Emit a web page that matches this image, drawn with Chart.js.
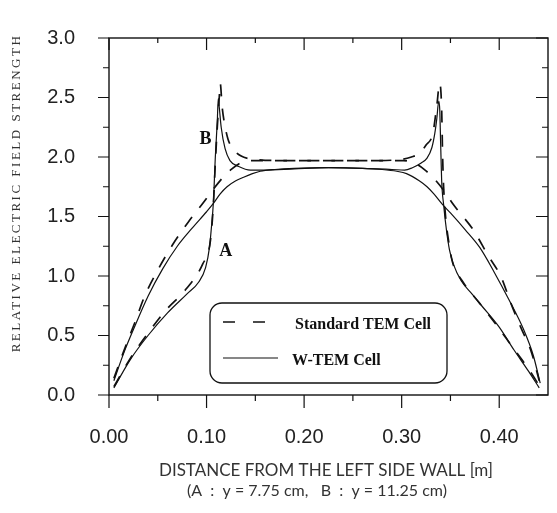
<!DOCTYPE html>
<html lang="en">
<head>
<meta charset="UTF-8">
<title>Relative electric field strength</title>
<script src="https://cdn.jsdelivr.net/npm/chart.js"></script>
<style>
  body { margin: 0; background: #fff; }
  #fieldChart { display: block; }
</style>
</head>
<body>
<canvas id="fieldChart" width="557" height="513"></canvas>
<script>
// distance from the left side wall [m] -> relative field strength
// A: y = 7.75 cm (smooth curve), B: y = 11.25 cm (peaks at the septum edges)
const stdA_x = [0.005,0.017,0.027,0.036,0.050,0.065,0.081,0.097,0.107,0.117,0.126,0.135,0.148,0.180,0.225,0.270,0.302,0.315,0.324,0.333,0.343,0.353,0.374,0.388,0.402,0.412,0.422,0.433,0.441];
const stdA_y = [0.14,0.41,0.62,0.82,1.05,1.26,1.45,1.62,1.73,1.83,1.90,1.95,1.97,1.97,1.97,1.97,1.97,1.94,1.89,1.82,1.72,1.60,1.38,1.18,0.99,0.77,0.57,0.36,0.12];

const wtemA_x = [0.005,0.015,0.025,0.040,0.055,0.070,0.085,0.100,0.107,0.114,0.121,0.130,0.138,0.147,0.155,0.170,0.190,0.225,0.260,0.280,0.295,0.305,0.318,0.326,0.333,0.342,0.350,0.365,0.380,0.395,0.410,0.425,0.435,0.442];
const wtemA_y = [0.12,0.35,0.55,0.83,1.06,1.25,1.40,1.54,1.61,1.69,1.75,1.80,1.83,1.86,1.88,1.895,1.905,1.91,1.905,1.895,1.88,1.86,1.80,1.75,1.69,1.60,1.53,1.39,1.24,1.03,0.80,0.55,0.33,0.10];

const stdB_x = [0.005,0.022,0.040,0.058,0.079,0.096,0.104,0.107,0.109,0.111,0.113,0.114,0.116,0.118,0.122,0.127,0.135,0.150,0.180,0.225,0.270,0.300,0.310,0.318,0.325,0.332,0.336,0.339,0.341,0.342,0.343,0.345,0.348,0.352,0.362,0.380,0.397,0.413,0.430,0.441];
const stdB_y = [0.07,0.31,0.52,0.71,0.89,1.10,1.30,1.60,1.95,2.25,2.50,2.62,2.42,2.30,2.15,2.07,2.01,1.98,1.97,1.97,1.97,1.98,2.00,2.03,2.10,2.20,2.43,2.62,2.40,2.00,1.75,1.50,1.30,1.12,0.96,0.77,0.59,0.41,0.22,0.08];

const wtemB_x = [0.005,0.022,0.040,0.060,0.080,0.092,0.099,0.103,0.105,0.107,0.109,0.111,0.112,0.113,0.115,0.119,0.124,0.133,0.145,0.160,0.190,0.225,0.260,0.290,0.303,0.311,0.320,0.326,0.331,0.334,0.336,0.338,0.339,0.340,0.341,0.343,0.346,0.349,0.353,0.361,0.372,0.382,0.400,0.415,0.430,0.441];
const wtemB_y = [0.06,0.30,0.50,0.69,0.85,0.95,1.07,1.24,1.41,1.62,2.00,2.30,2.49,2.42,2.25,2.07,1.97,1.92,1.89,1.89,1.90,1.91,1.905,1.895,1.89,1.91,1.95,1.99,2.08,2.20,2.32,2.47,2.40,2.10,1.80,1.60,1.38,1.22,1.10,0.96,0.85,0.75,0.57,0.38,0.20,0.06];

// axes
const xTickVals = [0, 0.05, 0.10, 0.15, 0.20, 0.25, 0.30, 0.35, 0.40];
const xTickLabels = ['0.00', '', '0.10', '', '0.20', '', '0.30', '', '0.40'];
const yTickVals = [0, 0.25, 0.5, 0.75, 1.0, 1.25, 1.5, 1.75, 2.0, 2.25, 2.5, 2.75, 3.0];
const yTickLabels = ['0.0', '', '0.5', '', '1.0', '', '1.5', '', '2.0', '', '2.5', '', '3.0'];

// curve labels, placed in data units
const curveNames = ['A', 'B'];
const curveNameX = [0.1196, 0.099];
const curveNameY = [1.21, 2.15];

const legendNames = ['Standard TEM Cell', 'W-TEM Cell'];

const pts = (xs, ys) => xs.map((v, i) => ({x: v, y: ys[i]}));

const INK = '#111';
const DASH = [12, 12];

const frameTicks = {
    id: 'frameTicks',
    afterDatasetsDraw(chart) {
        const {ctx, chartArea: a, scales: {x, y}} = chart;
        ctx.save();
        ctx.strokeStyle = INK;
        ctx.lineWidth = 1.4;
        ctx.strokeRect(a.left, a.top, a.right - a.left, a.bottom - a.top);

        ctx.lineWidth = 1.2;
        ctx.beginPath();
        xTickVals.forEach((v, i) => {
            const px = x.getPixelForValue(v);
            const major = i % 2 === 0;
            ctx.moveTo(px, a.bottom);
            ctx.lineTo(px, a.bottom + (major ? 13 : 6));
            ctx.moveTo(px, a.top);
            ctx.lineTo(px, a.top + (major ? 12 : 5));
        });
        yTickVals.forEach((v, i) => {
            const py = y.getPixelForValue(v);
            const major = i % 2 === 0;
            ctx.moveTo(a.left, py);
            ctx.lineTo(a.left - (major ? 11 : 6), py);
            ctx.moveTo(a.right, py);
            ctx.lineTo(a.right - (major ? 12 : 6), py);
        });
        ctx.stroke();

        // A / B
        ctx.fillStyle = INK;
        ctx.font = 'bold 18px "Liberation Serif"';
        ctx.textAlign = 'center';
        ctx.textBaseline = 'middle';
        curveNames.forEach((t, i) => {
            ctx.fillText(t, x.getPixelForValue(curveNameX[i]), y.getPixelForValue(curveNameY[i]));
        });

        // legend box
        ctx.lineWidth = 1.3;
        ctx.beginPath();
        ctx.roundRect(210, 303, 237, 80, 12);
        ctx.stroke();
        ctx.lineWidth = 1.6;
        ctx.setLineDash([12, 18]);
        ctx.beginPath();
        ctx.moveTo(223, 322);
        ctx.lineTo(265, 322);
        ctx.stroke();
        ctx.setLineDash([]);
        ctx.lineWidth = 1.2;
        ctx.beginPath();
        ctx.moveTo(223, 358);
        ctx.lineTo(278, 358);
        ctx.stroke();
        ctx.font = 'bold 16px "Liberation Serif"';
        ctx.textAlign = 'left';
        ctx.fillText(legendNames[0], 295, 325);
        ctx.fillText(legendNames[1], 292, 361);

        // axis titles
        ctx.fillStyle = '#333';
        ctx.font = '17px Lato';
        ctx.textAlign = 'center';
        ctx.fillText('DISTANCE FROM THE LEFT SIDE WALL [m]', 326, 471);
        ctx.font = '16px Lato';
        ctx.fillText('(A  :  y = 7.75 cm,   B  :  y = 11.25 cm)', 317, 491);

        ctx.translate(17, 193);
        ctx.rotate(-Math.PI / 2);
        ctx.font = '13px "Liberation Serif"';
        ctx.letterSpacing = '2.5px';
        ctx.fillText('RELATIVE ELECTRIC FIELD STRENGTH', 0, 0);
        ctx.restore();
    }
};

const ctx = document.getElementById('fieldChart').getContext('2d');
new Chart(ctx, {
    type: 'line',
    data: {
        datasets: [
            {label: 'Standard TEM Cell (A)', data: pts(stdA_x, stdA_y), borderColor: INK, borderWidth: 1.7, borderDash: DASH},
            {label: 'W-TEM Cell (A)', data: pts(wtemA_x, wtemA_y), borderColor: INK, borderWidth: 1.2},
            {label: 'Standard TEM Cell (B)', data: pts(stdB_x, stdB_y), borderColor: INK, borderWidth: 1.7, borderDash: DASH},
            {label: 'W-TEM Cell (B)', data: pts(wtemB_x, wtemB_y), borderColor: INK, borderWidth: 1.2}
        ]
    },
    options: {
        responsive: false,
        animation: false,
        elements: {
            point: {radius: 0},
            line: {cubicInterpolationMode: 'monotone', fill: false}
        },
        layout: {padding: {left: 0, right: 9, top: 15, bottom: 0}},
        plugins: {legend: {display: false}, tooltip: {enabled: false}},
        scales: {
            x: {
                type: 'linear',
                min: 0,
                max: 0.45,
                afterBuildTicks: s => { s.ticks = xTickVals.map(v => ({value: v})); },
                afterFit: s => { s.height = 118; },
                grid: {display: false},
                border: {display: false},
                ticks: {
                    autoSkip: false,
                    maxRotation: 0,
                    padding: 22,
                    color: '#222',
                    font: {family: '"Liberation Sans"', size: 20},
                    callback: (v, i) => xTickLabels[i]
                }
            },
            y: {
                min: 0,
                max: 3,
                afterBuildTicks: s => { s.ticks = yTickVals.map(v => ({value: v})); },
                afterFit: s => { s.width = 109; },
                grid: {display: false},
                border: {display: false},
                ticks: {
                    autoSkip: false,
                    padding: 26,
                    color: '#222',
                    font: {family: '"Liberation Sans"', size: 20},
                    callback: (v, i) => yTickLabels[i]
                }
            }
        }
    },
    plugins: [frameTicks]
});
</script>
</body>
</html>
